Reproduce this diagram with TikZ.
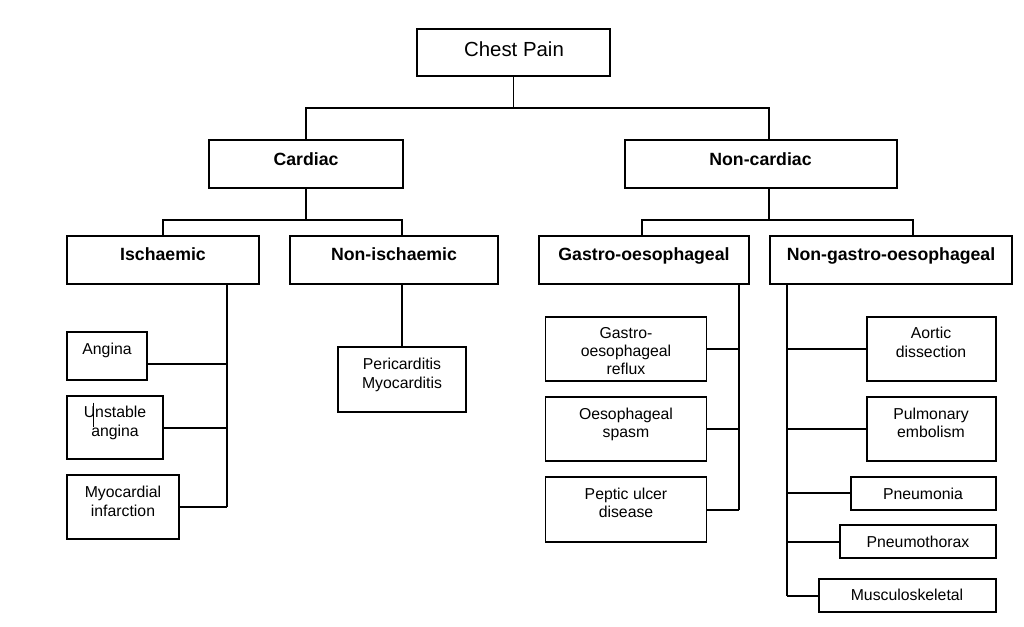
\documentclass[tikz,border=0pt]{standalone}
\usepackage{fontspec}
\setmainfont{Liberation Sans}
\begin{document}
\begin{tikzpicture}[x=1pt,y=-1pt,
  box/.style={draw, line width=1.6pt, rectangle, inner sep=0pt},
  ln/.style={line width=1.5pt},
  txt/.style={anchor=north, inner sep=0pt, align=center, font=\fontsize{15.8}{18.5}\selectfont},
  hd/.style={anchor=north, inner sep=0pt, align=center, font=\fontsize{17.7}{21}\selectfont\bfseries},
  tp/.style={anchor=north, inner sep=0pt, align=center, font=\fontsize{20.4}{24}\selectfont},
]
\newcommand\mkbox[5]{\node[box, minimum width={#4-#2}, minimum height={#5-#3}] (#1) at ({(#2+#4)/2},{(#3+#5)/2}) {};}
\fill[white] (0,0) rectangle (1024,626);
\useasboundingbox (0,0) rectangle (1024,626);

% boxes
\mkbox{chest}{417}{29}{610}{76}
\mkbox{cardiac}{209}{140}{403}{188}
\mkbox{noncard}{625}{140}{897}{188}
\mkbox{isch}{67}{236}{259}{284}
\mkbox{nonisch}{290}{236}{498}{284}
\mkbox{gastro}{539}{236}{749}{284}
\mkbox{nongastro}{770}{236}{1012}{284}
\mkbox{angina}{67}{332}{147}{380}
\mkbox{unstable}{67}{396}{163}{459}
\mkbox{mi}{67}{475}{179}{539}
\mkbox{peri}{338}{347}{466}{412}
\mkbox{gor}{545.5}{317}{706.5}{381}
\mkbox{spasm}{545.5}{397}{706.5}{461}
\mkbox{peptic}{545.5}{477}{706.5}{542}
\mkbox{aortic}{867}{317}{996}{381}
\mkbox{pulm}{867}{397}{996}{461}
\mkbox{pneumonia}{851}{477}{996}{510}
\mkbox{pneumothorax}{840}{525}{996}{558}
\mkbox{musculo}{819}{579}{996}{612}

% texts
\node[tp] (chestt) at (514,41.7) {Chest Pain};
\node[hd] (cardiact) at (306,152.5) {Cardiac};
\node[hd] (noncardt) at (760.5,152.5) {Non-cardiac};
\node[hd] (ischt) at (163,247.7) {Ischaemic};
\node[hd] (nonischt) at (394,247.7) {Non-ischaemic};
\node[hd] (gastrot) at (644,247.7) {Gastro-oesophageal};
\node[hd] (nongastrot) at (891,247.7) {Non-gastro-oesophageal};
\node[txt] (anginat) at (107,343) {Angina};
\node[txt] (unstablet) at (115,406) {Unstable\\angina};
\node[txt] (mit) at (123,486) {Myocardial\\infarction};
\node[txt] (perit) at (402,358.3) {Pericarditis\\Myocarditis};
\node[txt] (gort) at (626,327) {Gastro-\\[-0.6pt]oesophageal\\[-0.6pt]reflux};
\node[txt] (spasmt) at (626,407.5) {Oesophageal\\spasm};
\node[txt] (peptict) at (626,487.5) {Peptic ulcer\\disease};
\node[txt] (aortict) at (931,327) {Aortic\\dissection};
\node[txt] (pulmt) at (931,407.5) {Pulmonary\\embolism};
\node[txt] (pneumoniat) at (923,487.5) {Pneumonia};
\node[txt] (pneumothoraxt) at (918,535.8) {Pneumothorax};
\node[txt] (musculot) at (907,589) {Musculoskeletal};

% cursor mark in "Unstable"
\draw[line width=0.8pt] (93.3,402.7) -- (93.3,426.7);

% junction coordinates
\coordinate (cA) at (306,108);
\coordinate (cB) at (769,108);
\coordinate (dL) at (163,220);
\coordinate (dR) at (402,220);
\coordinate (eL) at (642,220);
\coordinate (eR) at (913,220);
\coordinate (ba) at (227,364);
\coordinate (bu) at (227,428);
\coordinate (bm) at (227,507);
\coordinate (ga) at (739,349);
\coordinate (gb) at (739,429);
\coordinate (gc) at (739,510);
\coordinate (na) at (787,349);
\coordinate (nb) at (787,429);
\coordinate (nc) at (787,493);
\coordinate (nd) at (787,542);
\coordinate (ne) at (787,596);

% level 1
\draw[ln] (chest.south) -- (chest.south |- cA);
\draw[ln] (cardiac.north -| cA) -- (cA) -- (cB) -- (cB |- noncard.north);
% level 2
\draw[ln] (cardiac.south -| cA) -- (cA |- dL);
\draw[ln] (isch.north -| dL) -- (dL) -- (dR) -- (dR |- nonisch.north);
\draw[ln] (noncard.south -| cB) -- (cB |- eL);
\draw[ln] (gastro.north -| eL) -- (eL) -- (eR) -- (eR |- nongastro.north);
% ischaemic
\draw[ln] (isch.south -| ba) -- (bm);
\draw[ln] (angina.east |- ba) -- (ba);
\draw[ln] (unstable.east |- bu) -- (bu);
\draw[ln] (mi.east |- bm) -- (bm);
% non-ischaemic
\draw[ln] (nonisch.south -| dR) -- (peri.north -| dR);
% gastro
\draw[ln] (gastro.south -| ga) -- (gc);
\draw[ln] (gor.east |- ga) -- (ga);
\draw[ln] (spasm.east |- gb) -- (gb);
\draw[ln] (peptic.east |- gc) -- (gc);
% non-gastro
\draw[ln] (nongastro.south -| na) -- (ne);
\draw[ln] (aortic.west |- na) -- (na);
\draw[ln] (pulm.west |- nb) -- (nb);
\draw[ln] (pneumonia.west |- nc) -- (nc);
\draw[ln] (pneumothorax.west |- nd) -- (nd);
\draw[ln] (musculo.west |- ne) -- (ne);
\end{tikzpicture}
\end{document}
